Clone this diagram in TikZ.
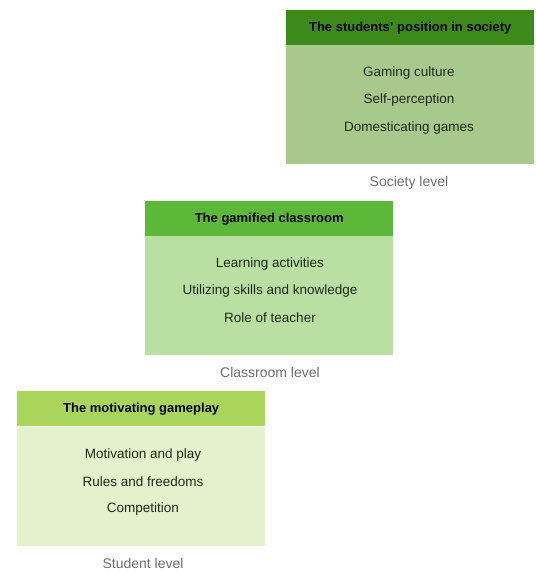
\documentclass[tikz,border=0pt]{standalone}
\usepackage{fontspec}
\setmainfont{Liberation Sans}
\definecolor{hA}{HTML}{3D8A1A}
\definecolor{bA}{HTML}{A8C98C}
\definecolor{hB}{HTML}{5DB83A}
\definecolor{bB}{HTML}{B9DFA2}
\definecolor{hC}{HTML}{A9D65A}
\definecolor{bC}{HTML}{E3F1CC}
\definecolor{txt}{HTML}{1E2A16}
\definecolor{lvl}{HTML}{6E6E6E}
\tikzset{
  hdr/.style={minimum width=248pt, minimum height=35pt, inner sep=0pt, font=\bfseries\fontsize{13}{15}\selectfont, text=black},
  bodybox/.style={minimum width=248pt, minimum height=119pt, inner sep=0pt},
  item/.style={font=\fontsize{13.5}{15}\selectfont, text=txt},
  lvltext/.style={font=\fontsize{14}{16}\selectfont, text=lvl}
}
\begin{document}
\begin{tikzpicture}[x=1pt,y=-1pt]
\useasboundingbox (0,0) rectangle (536,571);
% Society
\node[bodybox, fill=bA, anchor=north west] (b1) at (286,45) {};
\node[hdr, fill=hA, anchor=north west] (h1) at (286,10) {The students' position in society};
\node[item] (i11) at (409,73) {Gaming culture};
\node[item] (i12) at (409,100) {Self-perception};
\node[item] (i13) at (409,128) {Domesticating games};
\node[lvltext] (l1) at (409,183) {Society level};
% Classroom
\node[bodybox, fill=bB, anchor=north west] (b2) at (145,236) {};
\node[hdr, fill=hB, anchor=north west] (h2) at (145,201) {The gamified classroom};
\node[item] (i21) at (270,264) {Learning activities};
\node[item] (i22) at (270,291) {Utilizing skills and knowledge};
\node[item] (i23) at (270,318) {Role of teacher};
\node[lvltext] (l2) at (270,372) {Classroom level};
% Student
\node[bodybox, fill=bC, anchor=north west] (b3) at (17,427) {};
\node[hdr, fill=hC, anchor=north west] (h3) at (17,391) {The motivating gameplay};
\node[item] (i31) at (143,455) {Motivation and play};
\node[item] (i32) at (143,482) {Rules and freedoms};
\node[item] (i33) at (143,509) {Competition};
\node[lvltext] (l3) at (143,563) {Student level};
\end{tikzpicture}
\end{document}
